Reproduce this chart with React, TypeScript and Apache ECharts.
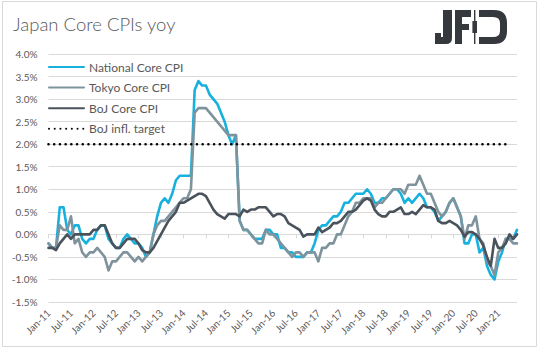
import React, { useEffect, useRef } from 'react';
import * as echarts from 'echarts';

// ---------- data ----------
const yearSuffixes = ['11', '12', '13', '14', '15', '16', '17', '18', '19', '20', '21'];
const monthNames = ['Jan', 'Feb', 'Mar', 'Apr', 'May', 'Jun', 'Jul', 'Aug', 'Sep', 'Oct', 'Nov', 'Dec'];
const monthsIn2021 = 6;

const nationalCoreCPI = [
  -0.2, -0.3, -0.3, 0.6, 0.6, 0.1, 0.0, 0.2, 0.2, -0.1, -0.2, -0.1,
  -0.1, 0.1, 0.2, 0.2, -0.1, -0.2, -0.3, -0.3, -0.1, 0.0, -0.1, -0.2,
  -0.2, -0.3, -0.5, -0.4, 0.0, 0.4, 0.7, 0.8, 0.7, 0.9, 1.2, 1.3,
  1.3, 1.3, 1.3, 3.2, 3.4, 3.3, 3.3, 3.1, 3.0, 2.9, 2.7, 2.5,
  2.2, 2.0, 2.2, 0.3, 0.1, 0.1, 0.0, -0.1, -0.1, -0.1, 0.1, 0.1,
  0.0, 0.0, -0.3, -0.3, -0.4, -0.4, -0.5, -0.5, -0.5, -0.4, -0.4, -0.2,
  0.1, 0.2, 0.2, 0.3, 0.4, 0.4, 0.5, 0.7, 0.7, 0.8, 0.9, 0.9,
  0.9, 1.0, 0.9, 0.7, 0.7, 0.8, 0.8, 0.9, 1.0, 1.0, 0.9, 0.7,
  0.8, 0.7, 0.8, 0.9, 0.8, 0.6, 0.6, 0.5, 0.3, 0.4, 0.5, 0.7,
  0.8, 0.6, 0.4, -0.2, -0.2, 0.0, 0.0, -0.4, -0.3, -0.7, -0.9, -1.0,
  -0.6, -0.4, -0.1, -0.1, -0.1, 0.1,
];

const tokyoCoreCPI = [
  -0.2, -0.3, -0.3, 0.2, 0.1, 0.1, 0.4, -0.2, -0.1, -0.4, -0.5, -0.4,
  -0.4, -0.3, -0.4, -0.5, -0.8, -0.6, -0.6, -0.5, -0.4, -0.4, -0.5, -0.6,
  -0.5, -0.6, -0.5, -0.4, 0.0, 0.2, 0.3, 0.3, 0.4, 0.5, 0.6, 0.7,
  0.8, 0.8, 1.0, 2.7, 2.8, 2.8, 2.8, 2.7, 2.6, 2.5, 2.4, 2.3,
  2.2, 2.2, 2.2, 0.3, 0.1, 0.1, 0.0, -0.1, -0.2, -0.2, 0.1, 0.0,
  0.0, -0.1, -0.2, -0.3, -0.4, -0.5, -0.4, -0.4, -0.5, -0.4, -0.4, -0.4,
  -0.6, -0.3, -0.3, -0.2, -0.2, 0.0, 0.0, 0.2, 0.4, 0.5, 0.7, 0.7,
  0.8, 0.8, 0.8, 0.6, 0.7, 0.7, 0.8, 0.9, 1.0, 1.0, 1.0, 0.9,
  1.1, 1.1, 1.1, 1.3, 1.1, 0.9, 0.9, 0.7, 0.5, 0.4, 0.5, 0.7,
  0.8, 0.6, 0.4, -0.1, 0.2, 0.2, 0.4, -0.1, -0.2, -0.6, -0.7, -0.9,
  -0.4, -0.3, -0.1, -0.1, -0.2, -0.2,
];

const bojCoreCPI = [
  -0.3, -0.3, -0.35, -0.2, -0.1, 0.0, -0.1, 0.0, 0.0, 0.0, 0.0, 0.0,
  0.1, 0.1, 0.2, 0.2, 0.0, -0.2, -0.3, -0.3, -0.2, -0.1, -0.1, -0.1,
  -0.2, -0.35, -0.4, -0.4, -0.3, -0.15, 0.0, 0.15, 0.3, 0.4, 0.5, 0.7,
  0.7, 0.75, 0.8, 0.85, 0.9, 0.9, 0.85, 0.7, 0.55, 0.45, 0.4, 0.35,
  0.45, 0.45, 0.45, 0.4, 0.55, 0.5, 0.55, 0.55, 0.6, 0.6, 0.6, 0.5,
  0.4, 0.45, 0.45, 0.4, 0.25, 0.2, 0.15, 0.1, -0.05, 0.0, 0.0, 0.0,
  0.15, 0.05, 0.1, 0.15, 0.25, 0.25, 0.3, 0.4, 0.5, 0.5, 0.55, 0.65,
  0.75, 0.8, 0.75, 0.55, 0.45, 0.4, 0.4, 0.5, 0.5, 0.55, 0.6, 0.45,
  0.45, 0.5, 0.45, 0.55, 0.65, 0.6, 0.6, 0.55, 0.3, 0.25, 0.25, 0.3,
  0.25, 0.2, 0.1, -0.05, 0.05, 0.05, 0.0, -0.1, -0.25, -0.5, -0.7, -0.1,
  -0.3, -0.3, -0.2, 0.0, -0.1, 0.0,
];

const bojTargetLevel = 2.0;
const bojTargetLastIndex = 122;

const yMin = -1.5;
const yMax = 4.0;
const yStep = 0.5;

const seriesNames = ['National Core CPI', 'Tokyo Core CPI', 'BoJ Core CPI', 'BoJ infl. target'];
const seriesColors = ['#17B1DE', '#7F939D', '#4A535C', '#000000'];

// ---------- derived tables ----------
const categories: string[] = [];
yearSuffixes.forEach((y, yi) => {
  monthNames.forEach((m, mi) => {
    if (yi < yearSuffixes.length - 1 || mi < monthsIn2021) categories.push(`${m}-${y}`);
  });
});
const bojTarget = categories.map((_, i) => (i <= bojTargetLastIndex ? bojTargetLevel : null));

// ---------- logo ----------
const LOGO_PATH =
  'M443 10 L452 10 L452 38 Q452 44 446 44 L435 44 L435 33 L441 33 L441 37 L443 37 Z ' +
  'M455 10 L471 10 L471 17 L462 17 L462 24 L469 24 L469 30 L462 30 L462 44 L455 44 Z ' +
  'M474 10 L475.4 10 L475.4 21 L477 21 L477 33 L475.4 33 L475.4 44 L474 44 L474 33 L472.4 33 L472.4 21 L474 21 Z ' +
  'M479 10 L494 10 Q507 10 507 23 L507 31 Q507 44 494 44 L479 44 L479 37 L493 37 Q500 37 500 31 L500 23 Q500 17 493 17 L479 17 Z';
let logoRegistered = false;
function ensureLogo() {
  if (logoRegistered) return;
  echarts.graphic.registerShape('jfdLogo', echarts.graphic.extendPath(LOGO_PATH, {}) as any);
  logoRegistered = true;
}

const FONT = 'Lato, "Open Sans", "DejaVu Sans", sans-serif';
const GREY_TEXT = '#595959';
const GRID_LINE = '#d9d9d9';

export default function App() {
  const ref = useRef<HTMLDivElement>(null);

  useEffect(() => {
    if (!ref.current) return;
    ensureLogo();
    const chart = echarts.init(ref.current, undefined, { renderer: 'svg' });
    const lineSeries = [nationalCoreCPI, tokyoCoreCPI, bojCoreCPI].map((d, k) => ({
      name: seriesNames[k],
      type: 'line',
      data: d,
      symbol: 'none',
      showSymbol: false,
      xAxisIndex: 0,
      lineStyle: { color: seriesColors[k], width: 2.6, cap: 'round', join: 'round' },
      itemStyle: { color: seriesColors[k] },
      z: 2 + k,
    }));
    const option: any = {
      animation: false,
      backgroundColor: '#ffffff',
      textStyle: { fontFamily: FONT },
      title: {
        text: 'Japan Core CPIs yoy',
        left: 13,
        top: 14,
        padding: 0,
        textStyle: { fontFamily: FONT, fontWeight: 300, fontSize: 18.5, color: GREY_TEXT },
      },
      graphic: [
        {
          type: 'rect',
          shape: { x: 2.5, y: 1.5, width: 534, height: 345 },
          style: { fill: 'none', stroke: GRID_LINE, lineWidth: 1 },
          silent: true,
          z: -10,
        },
        {
          type: 'jfdLogo',
          x: 0,
          y: 0,
          scaleX: 1,
          scaleY: 1,
          style: { fill: '#35393e' },
          silent: true,
        },
      ],
      legend: {
        orient: 'vertical',
        left: 48,
        top: 60,
        padding: 0,
        itemWidth: 35,
        itemHeight: 14,
        itemGap: 6.6,
        itemStyle: { opacity: 0 },
        textStyle: { color: GREY_TEXT, fontSize: 12, fontFamily: FONT, lineHeight: 14 },
        data: seriesNames,
      },
      grid: { left: 48.5, right: 26, top: 54, bottom: 50 },
      xAxis: [
        {
          type: 'category',
          data: categories,
          boundaryGap: false,
          position: 'bottom',
          axisLine: { show: false, onZero: false },
          axisTick: { show: false },
          splitLine: { show: false },
          axisLabel: { interval: 5, rotate: 45, color: GREY_TEXT, fontSize: 10, margin: 9, fontFamily: FONT },
        },
        {
          type: 'category',
          data: categories,
          boundaryGap: false,
          position: 'top',
          axisLine: { show: true, onZero: true, lineStyle: { color: GRID_LINE, width: 1 } },
          axisTick: { show: true, interval: 5, inside: true, length: 4, lineStyle: { color: GRID_LINE } },
          axisLabel: { show: false },
          splitLine: { show: false },
        },
      ],
      yAxis: {
        type: 'value',
        min: yMin,
        max: yMax,
        interval: yStep,
        axisLine: { show: false },
        axisTick: { show: false },
        splitLine: { lineStyle: { color: GRID_LINE, width: 1 } },
        axisLabel: {
          color: GREY_TEXT,
          fontSize: 10,
          margin: 11,
          fontFamily: FONT,
          formatter: (v: number) => `${v.toFixed(1)}%`,
        },
      },
      series: [
        ...lineSeries,
        {
          name: seriesNames[3],
          type: 'line',
          data: bojTarget,
          symbol: 'none',
          showSymbol: false,
          xAxisIndex: 0,
          lineStyle: { color: seriesColors[3], width: 2.6, type: [0.01, 5.7], cap: 'round' },
          itemStyle: { color: seriesColors[3] },
          z: 6,
        },
      ],
    };
    chart.setOption(option);
    return () => chart.dispose();
  }, []);

  return (
    <div
      ref={ref}
      style={{ position: 'fixed', left: 0, top: 0, width: 543, height: 352, background: '#fff' }}
    />
  );
}
